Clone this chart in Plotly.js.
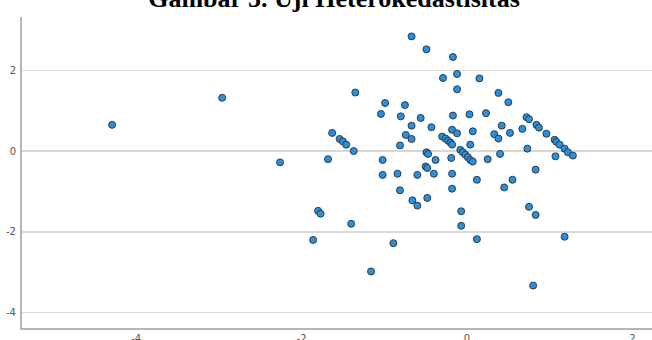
<!DOCTYPE html>
<html>
<head>
<meta charset="utf-8">
<script src="https://cdn.plot.ly/plotly-3.0.1.min.js"></script>
<style>html,body{margin:0;padding:0;background:#fff;}#chart{width:652px;height:340px;}</style>
</head>
<body>
<div id="chart"></div>
<script>
// Regression standardized predicted value (x) vs studentized residual (y)
const predicted = [
  -4.29, -2.96, -2.26, -1.86, -1.80, -1.77, -1.68, -1.63, -1.54, -1.50,
  -1.46, -1.37, -1.40, -1.35, -1.16, -1.04, -1.02, -1.02, -0.99, -0.89,
  -0.84, -0.81, -0.81, -0.80, -0.75, -0.74, -0.67, -0.67, -0.67, -0.66,
  -0.60, -0.60, -0.56, -0.49, -0.49, -0.47, -0.50, -0.48, -0.48, -0.43,
  -0.40, -0.38, -0.30, -0.29, -0.26, -0.23, -0.20, -0.18, -0.19, -0.18,
  -0.18, -0.17, -0.18, -0.17, -0.12, -0.12, -0.12, -0.08, -0.05, -0.02,
   0.01,  0.04,  0.07, -0.07, -0.07,  0.03,  0.04,  0.07,  0.12,  0.12,
   0.15,  0.23,  0.25,  0.33,  0.38,  0.38,  0.40,  0.42,  0.45,  0.50,
   0.52,  0.55,  0.67,  0.72,  0.75,  0.73,  0.75,  0.83,  0.83,  0.80,
   0.84,  0.87,  0.96,  1.06,  1.08,  1.12,  1.18,  1.22,  1.28,  1.07,
   1.18
];
const residual = [
   0.65,  1.32, -0.28, -2.20, -1.48, -1.55, -0.20,  0.45,  0.30,  0.24,
   0.16,  0.00, -1.80,  1.45, -2.98,  0.92, -0.22, -0.59,  1.19, -2.28,
  -0.56,  0.14, -0.97,  0.86,  1.14,  0.40,  0.30,  2.84,  0.63, -1.22,
  -0.59, -1.35,  0.82,  2.52, -0.03, -0.07, -0.38, -0.42, -1.16,  0.59,
  -0.56, -0.22,  0.36,  1.81,  0.31,  0.26,  0.21,  0.16, -0.17, -0.56,
  -0.93,  0.88,  0.53,  2.33,  1.53,  1.91,  0.44,  0.03, -0.03, -0.09,
  -0.15, -0.22, -0.26, -1.49, -1.85,  0.91,  0.16,  0.49, -0.71, -2.18,
   1.80,  0.94, -0.20,  0.42,  1.44,  0.31, -0.07,  0.63, -0.90,  1.21,
   0.45, -0.71,  0.55,  0.84,  0.79,  0.06, -1.38, -1.58, -0.46, -3.33,
   0.65,  0.58,  0.43,  0.28,  0.23,  0.16,  0.06, -0.03, -0.11, -0.13,
  -2.12
];
const xTicks = [-4, -2, 0, 2];
const yTicks = [-4, -2, 0, 2];
const chartTitle = 'Gambar 5. Uji Heterokedastisitas';

const trace = {
  x: predicted,
  y: residual,
  type: 'scatter',
  mode: 'markers',
  marker: {
    size: 7,
    color: '#2a90dc',
    line: {color: '#2e3c48', width: 1}
  },
  hoverinfo: 'none'
};

const layout = {
  width: 652,
  height: 340,
  margin: {l: 22, r: 0, t: 17, b: 12, pad: 0},
  paper_bgcolor: '#ffffff',
  plot_bgcolor: '#ffffff',
  showlegend: false,
  title: {
    text: chartTitle,
    font: {family: 'Liberation Serif, Times New Roman, serif', size: 26, color: '#000', weight: 'bold'},
    x: 334 / 652,
    xref: 'container',
    xanchor: 'center',
    y: 1 - 7 / 340,
    yref: 'container',
    yanchor: 'bottom'
  },
  xaxis: {
    range: [-5.38, 2.237],
    tickvals: xTicks,
    ticktext: xTicks.map(String),
    showgrid: false,
    zeroline: false,
    showline: true,
    linecolor: '#b5b5b5',
    linewidth: 2,
    ticks: '',
    tickfont: {family: 'DejaVu Sans, sans-serif', size: 10, color: '#555'}
  },
  yaxis: {
    range: [-4.38, 3.32],
    tickvals: yTicks,
    ticktext: yTicks.map(String),
    showgrid: true,
    gridcolor: '#d8d8d8',
    gridwidth: 1.5,
    zeroline: false,
    showline: true,
    linecolor: '#b5b5b5',
    linewidth: 2,
    ticks: '',
    ticklabelstandoff: 2,
    tickfont: {family: 'DejaVu Sans, sans-serif', size: 10, color: '#555'}
  }
};

Plotly.newPlot('chart', [trace], layout, {staticPlot: true, displayModeBar: false});
</script>
</body>
</html>
